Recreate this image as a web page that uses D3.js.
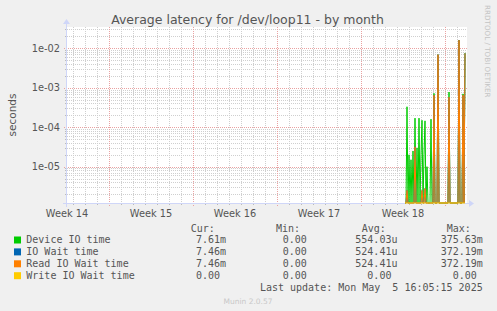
<!DOCTYPE html>
<html><head><meta charset="utf-8">
<script src="https://cdn.jsdelivr.net/npm/d3@7"></script>
<style>
html,body{margin:0;padding:0;background:#f0f0f0;}
svg{display:block;}
text{white-space:pre;}
</style></head>
<body>
<svg id="chart" width="497" height="311"></svg>
<script>
// ---- data ----
const title = "Average latency for /dev/loop11 - by month";
const yLabel = "seconds";
const yMajorTicks = [1e-5, 1e-4, 1e-3, 1e-2];
const yTickLabels = ["1e-05", "1e-04", "1e-03", "1e-02"];
const weekStartDates = ["2025-03-30", "2025-04-06", "2025-04-13", "2025-04-20", "2025-04-27"];
const weekLabels = ["Week 14", "Week 15", "Week 16", "Week 17", "Week 18"];
const graphEnd = "2025-05-05T20:00:00Z";
const graphHours = 800;
const dataStart = "2025-04-30T16:00:00Z";
const stepHours = 2;

const seriesNames = ["Device IO time", "IO Wait time", "Read IO Wait time", "Write IO Wait time"];
const seriesColors = ["#00cc00", "#0066b3", "#ff8000", "#ffcc00"];

const deviceIO = [0, 0, 3.3e-4, 0, 2e-5, 0, 1.5e-5, 0, 2.5e-5, 0,
  1.7e-4, 0, 3e-5, 0, 1.7e-4, 0, 2e-5, 1.5e-4, 0, 2e-5,
  1.45e-4, 0, 1e-5, 0, 0, 0, 1.6e-4, 0, 0, 7.2e-4,
  0, 0, 0, 6.9e-3, 0, 0, 0, 0, 0, 0,
  0, 0, 0, 0, 7.8e-4, 0, 0, 0, 0, 0,
  0, 0, 0, 0, 1.62e-2, 0, 0, 0, 7e-4, 0, 7.61e-3];
const ioWait = [0, 0, 2.5e-6, 0, 0, 0, 0, 0, 0, 0,
  3.2e-5, 0, 0, 0, 0, 0, 0, 2.5e-6, 0, 0,
  2.8e-6, 0, 0, 0, 0, 0, 0, 0, 0, 6.5e-4,
  0, 0, 0, 6.9e-3, 0, 0, 0, 0, 0, 0,
  0, 0, 0, 0, 5.8e-4, 0, 0, 0, 0, 0,
  0, 0, 0, 0, 1.6e-2, 0, 0, 0, 6.5e-4, 0, 7.46e-3];
const readWait = [0, 0, 2.5e-6, 0, 0, 0, 0, 0, 0, 0,
  3.2e-5, 0, 0, 0, 0, 0, 0, 2.5e-6, 0, 0,
  2.8e-6, 0, 0, 0, 0, 0, 0, 0, 0, 6.5e-4,
  0, 0, 0, 6.9e-3, 0, 0, 0, 0, 0, 0,
  0, 0, 0, 0, 5.8e-4, 0, 0, 0, 0, 0,
  0, 0, 0, 0, 1.6e-2, 0, 0, 0, 6.5e-4, 0, 7.46e-3];
const writeWait = [0, 0, 0, 0, 0, 0, 0, 0, 0, 0,
  0, 0, 0, 0, 0, 0, 0, 0, 0, 0,
  0, 0, 0, 0, 0, 0, 0, 0, 0, 0,
  0, 0, 0, 0, 0, 0, 0, 0, 0, 0,
  0, 0, 0, 0, 0, 0, 0, 0, 0, 0,
  0, 0, 0, 0, 0, 0, 0, 0, 0, 0, 0];

const curVals = ["7.61m", "7.46m", "7.46m", "0.00 "];
const minVals = ["0.00 ", "0.00 ", "0.00 ", "0.00 "];
const avgVals = ["554.03u", "524.41u", "524.41u", "0.00 "];
const maxVals = ["375.63m", "372.19m", "372.19m", "0.00 "];
const lastUpdate = "Last update: Mon May  5 16:05:15 2025";
const footer = "Munin 2.0.57";
const watermark = "RRDTOOL / TOBI OETIKER";

// ---- layout ----
const L = 67, R = 467, T = 27, B = 203;
const svg = d3.select("#chart");
const endT = new Date(graphEnd);
const startT = new Date(endT.getTime() - graphHours * 3600e3);
const x = d3.scaleUtc().domain([startT, endT]).range([L, R]);
const y = d3.scaleLog().domain([1.2e-6, 0.0347]).range([B, T]).clamp(true);
const yv = v => (v > 0 ? y(v) : B);

const fontColor = "#555";
svg.append("rect").attr("width", 497).attr("height", 311).attr("fill", "#f0f0f0");
svg.append("rect").attr("x", L).attr("y", T).attr("width", R - L).attr("height", B - T).attr("fill", "#fff");

const grid = svg.append("g").attr("shape-rendering", "crispEdges");
const minorC = "#cfcfcf", majorC = "#eaa2a2";
// horizontal minor/major
const [d0, d1] = y.domain();
for (let e = Math.floor(Math.log10(d0)); e <= Math.ceil(Math.log10(d1)); e++) {
  for (let k = 2; k <= 9; k++) {
    const v = k * Math.pow(10, e);
    if (v < d0 || v > d1) continue;
    const yy = Math.round(y(v)) + 0.5;
    grid.append("line").attr("x1", L).attr("x2", R).attr("y1", yy).attr("y2", yy)
      .attr("stroke", minorC).attr("stroke-dasharray", "1,1");
    grid.append("line").attr("x1", L - 2).attr("x2", L).attr("y1", yy).attr("y2", yy).attr("stroke", "#bbb");
  }
}
// vertical minor (days)
const weekStarts = weekStartDates.map(s => new Date(s + "T00:00:00Z"));
const weekSet = new Set(weekStarts.map(d => d.getTime()).concat([d3.utcSunday.ceil(weekStarts[weekStarts.length - 1].getTime() + 1)].map(d => +d)));
d3.utcDay.range(startT, endT).forEach(d => {
  if (weekSet.has(+d) || d3.utcSunday.floor(d).getTime() === +d) return;
  const xx = Math.round(x(d)) + 0.5;
  grid.append("line").attr("x1", xx).attr("x2", xx).attr("y1", T).attr("y2", B)
    .attr("stroke", minorC).attr("stroke-dasharray", "1,1");
  grid.append("line").attr("x1", xx).attr("x2", xx).attr("y1", B).attr("y2", B + 2).attr("stroke", "#bbb");
});
// major vertical (weeks)
d3.utcSunday.range(startT, endT).forEach(d => {
  const xx = Math.round(x(d)) + 0.5;
  grid.append("line").attr("x1", xx).attr("x2", xx).attr("y1", T).attr("y2", B + 3)
    .attr("stroke", majorC).attr("stroke-dasharray", "1,1");
});
// major horizontal
yMajorTicks.forEach(v => {
  const yy = Math.round(y(v)) + 0.5;
  grid.append("line").attr("x1", L - 3).attr("x2", R).attr("y1", yy).attr("y2", yy)
    .attr("stroke", majorC).attr("stroke-dasharray", "1,1");
});

// axes
const axisC = "#cfd6f8";
svg.append("line").attr("x1", L - 4).attr("x2", R + 3).attr("y1", B + 0.5).attr("y2", B + 0.5).attr("stroke", axisC);
svg.append("line").attr("x1", L - 0.5).attr("x2", L - 0.5).attr("y1", B + 4).attr("y2", T - 4).attr("stroke", axisC);
svg.append("path").attr("d", `M${R + 2},${B - 3} L${R + 7},${B + 0.5} L${R + 2},${B + 4} Z`).attr("fill", axisC);
svg.append("path").attr("d", `M${L - 4},${T - 3} L${L - 0.5},${T - 8} L${L + 3},${T - 3} Z`).attr("fill", axisC);

// y tick labels
svg.append("g").selectAll("text").data(yMajorTicks).join("text")
  .attr("x", 60).attr("y", v => y(v) + 3.5).attr("text-anchor", "end")
  .attr("font-family", "DejaVu Sans").attr("font-size", 9.8).attr("fill", fontColor)
  .text((v, i) => yTickLabels[i]);
// x labels centered in week
svg.append("g").selectAll("text").data(weekStarts).join("text")
  .attr("x", d => x(new Date(d.getTime() + 3.5 * 86400e3)))
  .attr("y", 216.5).attr("text-anchor", "middle")
  .attr("font-family", "DejaVu Sans").attr("font-size", 9.8).attr("fill", fontColor)
  .text((d, i) => weekLabels[i]);

// title and labels
svg.append("text").attr("x", 247.5).attr("y", 24).attr("text-anchor", "middle")
  .attr("font-family", "DejaVu Sans").attr("font-size", 12.5).attr("fill", fontColor).text(title);
svg.append("text").attr("transform", "translate(15.5,115) rotate(-90)").attr("text-anchor", "middle")
  .attr("font-family", "DejaVu Sans").attr("font-size", 10.5).attr("fill", fontColor).text(yLabel);
svg.append("text").attr("transform", "translate(485,5) rotate(90)").attr("text-anchor", "start")
  .attr("font-family", "DejaVu Sans").attr("font-size", 7.2).attr("fill", "#c4c4c4").text(watermark);

// series
const t0 = new Date(dataStart).getTime();
const times = deviceIO.map((_, i) => new Date(t0 + i * stepHours * 3600e3));
const allSeries = [deviceIO, ioWait, readWait, writeWait];
const clip = svg.append("clipPath").attr("id", "clip").append("rect")
  .attr("x", L).attr("y", T).attr("width", R - L).attr("height", B - T + 1);
const line = d3.line().x((d, i) => x(times[i])).y(d => yv(d));
const lines = svg.append("g").attr("clip-path", "url(#clip)");
allSeries.forEach((s, k) => {
  lines.append("path").attr("d", line(s)).attr("fill", "none")
    .attr("stroke", seriesColors[k]).attr("stroke-width", 1);
});

// legend
const mono = "DejaVu Sans Mono";
const lg = svg.append("g").attr("font-family", mono).attr("font-size", 10).attr("fill", fontColor);
const cw = 6.02;
[["Cur:", 190.7], ["Min:", 276], ["Avg:", 361.7], ["Max:", 446.7]].forEach(([t, xx]) => {
  lg.append("text").attr("x", xx).attr("y", 231.5).text(t);
});
const colStarts = [184, 270.7, 355.3, 440.7];
const pad = s => s.length >= 7 ? s : " ".repeat(7 - s.length) + s;
seriesNames.forEach((n, i) => {
  const yy = 243.3 + i * 11.9;
  svg.append("rect").attr("x", 14).attr("y", yy - 6.8).attr("width", 7).attr("height", 7).attr("fill", seriesColors[i]);
  lg.append("text").attr("x", 26.3).attr("y", yy).text(n);
  [curVals, minVals, avgVals, maxVals].forEach((arr, c) => {
    lg.append("text").attr("x", colStarts[c]).attr("y", yy).text(pad(arr[i]));
  });
});
lg.append("text").attr("x", 482.7).attr("y", 291.2).attr("text-anchor", "end").text(lastUpdate);
svg.append("text").attr("x", 248).attr("y", 304).attr("text-anchor", "middle")
  .attr("font-family", "DejaVu Sans").attr("font-size", 7.5).attr("fill", "#c8c8c8").text(footer);
</script>
</body></html>
